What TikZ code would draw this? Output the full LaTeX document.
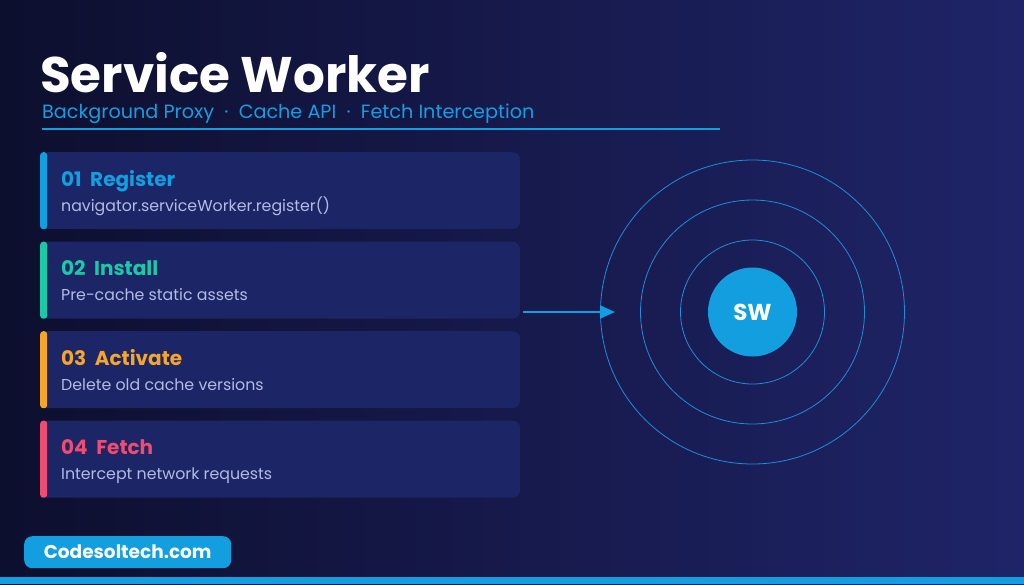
\documentclass[tikz,border=0pt]{standalone}
\usepackage{fontspec}
\setmainfont{Poppins}
\usetikzlibrary{arrows.meta,positioning}
\definecolor{bgleft}{HTML}{0D0F2E}
\definecolor{bgright}{HTML}{1F2468}
\definecolor{cardbg}{HTML}{1C2566}
\definecolor{swblue}{HTML}{139EE0}
\definecolor{swteal}{HTML}{1CC9A6}
\definecolor{sworange}{HTML}{F6A52B}
\definecolor{swpink}{HTML}{EE4C70}
\definecolor{ringblue}{HTML}{1E8ED6}
\definecolor{subtxt}{HTML}{B3BBE4}

\begin{document}
\begin{tikzpicture}[x=1pt,y=-1pt,
    card/.style={fill=cardbg,rounded corners=8pt,minimum width=480pt,
      minimum height=77pt,inner sep=0pt,anchor=north west},
    accent/.style={fill=#1,rounded corners=3pt,minimum width=7pt,
      minimum height=77pt,inner sep=0pt,anchor=north west},
    steptitle/.style={text=#1,font=\bfseries\fontsize{20}{23}\selectfont,
      anchor=base west,inner sep=0pt},
    stepsub/.style={text=subtxt,font=\fontsize{15.8}{18}\selectfont,
      anchor=base west,inner sep=0pt},
    ring/.style={draw=ringblue,line width=0.8pt,circle,inner sep=0pt,
      minimum size=#1}]
  \shade[left color=bgleft,right color=bgright] (0,0) rectangle (1024,584);
  \useasboundingbox (0,0) rectangle (1024,584);
  \node[text=white,font=\bfseries\fontsize{50}{56}\selectfont,anchor=base west,
    inner sep=0pt,text depth=0pt] (title) at (40,92) {Service Worker};
  \node[text=swblue,font=\fontsize{19.2}{22}\selectfont,anchor=base west,
    inner sep=0pt,text height=13pt] (subtitle) at (42,118)
    {Background Proxy\ \ ·\ \ Cache API\ \ ·\ \ Fetch Interception};
  \coordinate (rulea) at (42,129);
  \coordinate (ruleb) at (720,129);
  \draw[swblue,line width=2.5pt] (rulea) -- (ruleb);
  \node[card] (c1) at (40,152) {};
  \node[card] (c2) at (40,241.5) {};
  \node[card] (c3) at (40,331) {};
  \node[card] (c4) at (40,420.5) {};
  \node[accent=swblue] (a1) at (c1.north west) {};
  \node[accent=swteal] (a2) at (c2.north west) {};
  \node[accent=sworange] (a3) at (c3.north west) {};
  \node[accent=swpink] (a4) at (c4.north west) {};
  \node[steptitle=swblue] (t1) at (61,186) {01\ \ Register};
  \node[stepsub] (s1) at (61,211) {navigator.serviceWorker.register()};
  \node[steptitle=swteal] (t2) at (61,275.5) {02\ \ Install};
  \node[stepsub] (s2) at (61,300.5) {Pre-cache static assets};
  \node[steptitle=sworange] (t3) at (61,365) {03\ \ Activate};
  \node[stepsub] (s3) at (61,390) {Delete old cache versions};
  \node[steptitle=swpink] (t4) at (61,454.5) {04\ \ Fetch};
  \node[stepsub] (s4) at (61,479.5) {Intercept network requests};
  \node[ring=304pt] (r3) at (752.5,312) {};
  \node[ring=224pt] (r2) at (752.5,312) {};
  \node[ring=144pt] (r1) at (752.5,312) {};
  \node[circle,fill=swblue,minimum size=89pt,inner sep=0pt,text=white,
    font=\bfseries\fontsize{23}{25}\selectfont] (sw) at (752.5,312) {SW};
  \coordinate (from) at (523,312);
  \coordinate (to) at (615,312);
  \draw[swblue,line width=2pt,-{Triangle[length=15pt,width=13pt]}]
    (from) -- (to);
  \node[fill=swblue,rounded corners=8pt,text=white,minimum width=207pt,
    minimum height=32pt,inner sep=0pt,anchor=north west,
    font=\bfseries\fontsize{18.5}{20}\selectfont] (badge) at (24,536) {Codesoltech.com};
  \fill[swblue] (0,577) rectangle (1024,584);
\end{tikzpicture}
\end{document}
